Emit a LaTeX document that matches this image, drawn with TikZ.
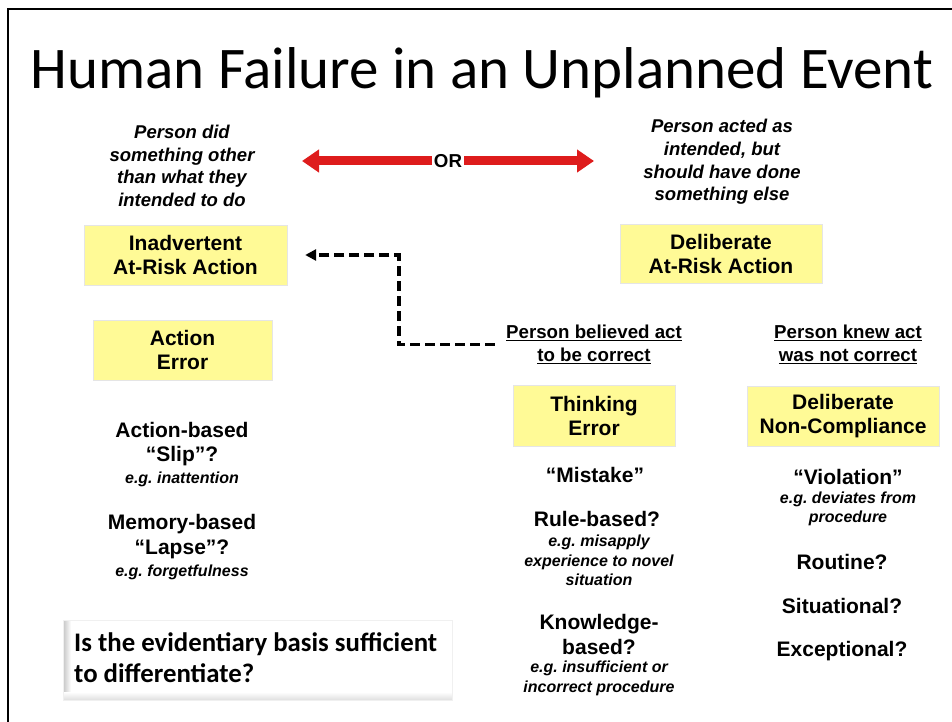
\documentclass[tikz,border=0pt]{standalone}
\usepackage{fontspec}
\setmainfont{Liberation Sans}
\newfontfamily\calibri{Carlito}
\usepackage{tikz}
\usetikzlibrary{arrows.meta}
\usetikzlibrary{positioning}
\frenchspacing
\definecolor{boxyellow}{RGB}{255,250,150}
\definecolor{orred}{RGB}{222,28,28}
\newcommand{\TitleFont}{\calibri\fontsize{59}{66}\selectfont}
\newcommand{\BoxFont}{\fontsize{21}{24}\selectfont\bfseries}
\newcommand{\HeadFont}{\fontsize{21}{24.5}\selectfont\bfseries}
\newcommand{\NoteFont}{\fontsize{18.5}{22.6}\selectfont\bfseries\itshape}
\newcommand{\EgFont}{\fontsize{16}{19.5}\selectfont\bfseries\itshape}
\newcommand{\LabFont}{\fontsize{18.7}{23}\selectfont\bfseries}
\newcommand{\AskFont}{\calibri\fontsize{26.8}{31}\selectfont\bfseries}
\tikzset{
  riskbox/.style={fill=boxyellow, draw=gray!20, align=center, font=\BoxFont, inner sep=0pt},
  head/.style={align=center, font=\HeadFont, inner sep=1pt},
  egnote/.style={align=center, font=\EgFont, inner sep=1pt},
  topnote/.style={align=center, font=\NoteFont, inner sep=1pt},
  actlabel/.style={align=center, font=\LabFont, inner sep=1pt},
  orarrow/.style={orred, line width=9pt, -{Triangle[width=22pt,length=17pt]}},
  dasharrow/.style={line width=3.5pt, dash pattern=on 10pt off 5pt, -{Triangle[width=11pt,length=11pt]}}
}

\begin{document}
\begin{tikzpicture}[x=1pt,y=-1pt]
\useasboundingbox (0,0) rectangle (952,722);
\draw[line width=2pt] (8,722) -- (8,9) -- (952,9);% frame

\node[font=\TitleFont] (title) at (482,73) {Human Failure in an Unplanned Event};

% top row
\node[topnote] (didnote) at (182,166) {Person did\\something other\\than what they\\intended to do};
\node[topnote] (actednote) at (722,162) {Person acted as\\intended, but\\should have done\\something else};
\node[font=\LabFont, inner sep=2pt] (or) at (448,161) {OR};
\coordinate (tipL) at (302,161);
\coordinate (tipR) at (594,161);
\draw[orarrow] (or.west) -- (tipL);
\draw[orarrow] (or.east) -- (tipR);

\node[riskbox, minimum width=203pt, minimum height=60pt] (inadv) at (185.5,255) {Inadvertent\\At-Risk Action};
\node[riskbox, minimum width=202pt, minimum height=59pt] (delib) at (721,253.5) {Deliberate\\At-Risk Action};
\node[riskbox, minimum width=179pt, minimum height=60pt] (action) at (182.5,350) {Action\\Error};

\node[actlabel] (believed) at (594,344.5) {\underline{Person believed act}\\\underline{to be correct}};
\node[actlabel] (knew) at (848,344.5) {\underline{Person knew act}\\\underline{was not correct}};
\draw[dasharrow] ([xshift=-10pt]believed.west) -- ++(-96,0) |- ([xshift=18pt]inadv.east);

\node[riskbox, minimum width=162pt, minimum height=61pt] (thinking) at (594,416) {Thinking\\Error};
\node[riskbox, minimum width=192pt, minimum height=60pt] (noncomp) at (843,416) {Deliberate\\Non-Compliance};

% action error column
\node[head] (slip) at (182,444) {Action-based\\“Slip”?};
\node[egnote] (slipeg) at (182,479) {e.g. inattention};
\node[head] (lapse) at (182,536.5) {Memory-based\\“Lapse”?};
\node[egnote] (lapseeg) at (182,572) {e.g. forgetfulness};

% thinking error column
\node[head] (mistake) at (595,475) {“Mistake”};
\node[head] (rule) at (597,519) {Rule-based?};
\node[egnote] (ruleeg) at (599,560.5) {e.g. misapply\\experience to novel\\situation};
\node[head] (knowledge) at (599,634.5) {Knowledge-\\based?};
\node[egnote] (knowledgeeg) at (599,678.5) {e.g. insufficient or\\incorrect procedure};

% non-compliance column
\node[head] (violation) at (848,477) {“Violation”};
\node[egnote] (violationeg) at (848,509) {e.g. deviates from\\procedure};
\node[head] (routine) at (842,562) {Routine?};
\node[head] (situational) at (842,606) {Situational?};
\node[head] (exceptional) at (842,651) {Exceptional?};

% question box
\fill[white] (63,620) rectangle (452,700);
\shade[left color=gray!45, right color=white] (63,620) rectangle (71,700);
\shade[top color=white, bottom color=gray!25] (63,692) rectangle (452,700);
\draw[gray!12] (63,620) rectangle (452,700);
\node[anchor=west, align=left, font=\AskFont, inner sep=0pt] (ask) at (74,658) {Is the evidentiary basis sufficient\\to differentiate?};
\end{tikzpicture}
\end{document}
